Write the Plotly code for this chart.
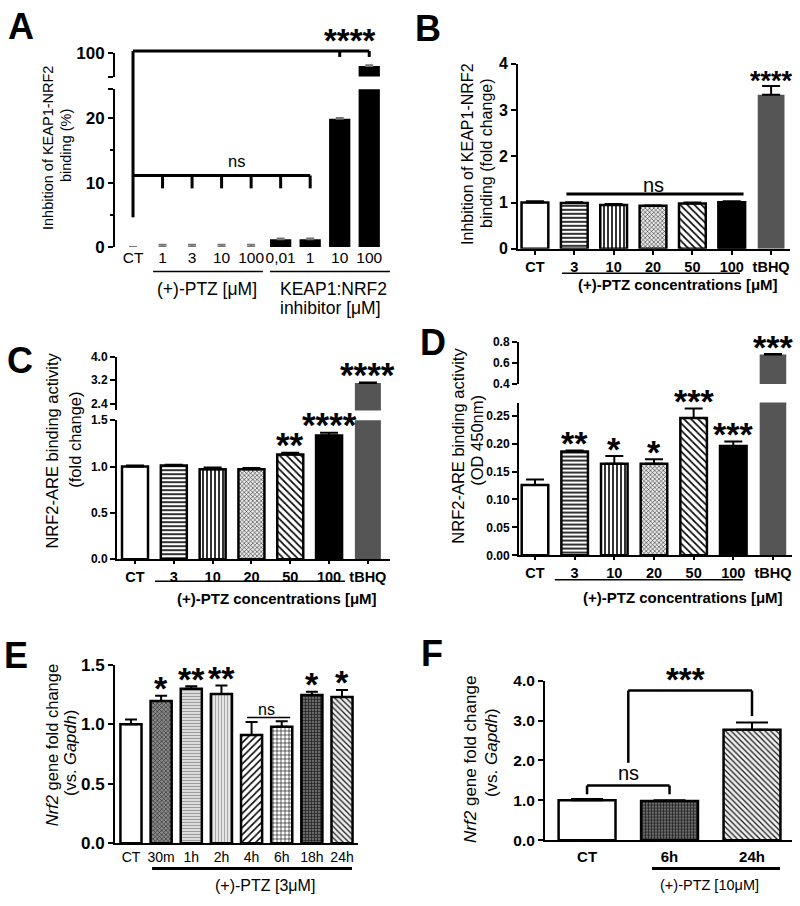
import plotly.graph_objects as go

W, H = 800, 906
FONT = "Liberation Sans, Arial, Helvetica, sans-serif"

# ---------------- data ----------------
A_labels = ["CT", "1", "3", "10", "100", "0,01", "1", "10", "100"]
A_values = [0, 0, 0, 0, 0, 1.2, 1.2, 19.9, 89]
A_err = [0, 0.35, 0.35, 0.35, 0.35, 0.1, 0.1, 0.15, 0.6]

B_labels = ["CT", "3", "10", "20", "50", "100", "tBHQ"]
B_values = [1.0, 0.99, 0.95, 0.93, 0.98, 1.01, 3.33]
B_err = [0.03, 0.02, 0.02, 0.01, 0.02, 0.02, 0.19]
B_stars = ["", "", "", "", "", "", "****"]

C_labels = ["CT", "3", "10", "20", "50", "100", "tBHQ"]
C_values = [1.0, 1.01, 0.97, 0.97, 1.13, 1.335, 3.1]
C_err = [0.01, 0.01, 0.02, 0.015, 0.02, 0.03, 0.02]
C_stars = ["", "", "", "", "**", "****", "****"]

D_labels = ["CT", "3", "10", "20", "50", "100", "tBHQ"]
D_values = [0.126, 0.186, 0.164, 0.164, 0.246, 0.196, 0.68]
D_err = [0.01, 0.002, 0.014, 0.008, 0.017, 0.008, 0.005]
D_stars = ["", "**", "*", "*", "***", "***", "***"]

E_labels = ["CT", "30m", "1h", "2h", "4h", "6h", "18h", "24h"]
E_values = [1.0, 1.196, 1.30, 1.256, 0.91, 0.98, 1.248, 1.23]
E_err = [0.04, 0.045, 0.02, 0.07, 0.11, 0.045, 0.027, 0.06]
E_stars = ["", "*", "**", "**", "", "", "*", "*"]

F_labels = ["CT", "6h", "24h"]
F_values = [1.0, 0.98, 2.77]
F_err = [0.03, 0.02, 0.18]

# ---------------- styles ----------------
def st(shape="", fg="black", bg="white", size=4, sol=0.4, lc="black", lw=2.5):
    return dict(shape=shape, fg=fg, bg=bg, size=size, sol=sol, lc=lc, lw=lw)

CONC_STYLES = [st(), st("-", size=4, sol=0.4), st("|", size=4, sol=0.4),
               st("x", fg="#111", bg="#e8e8e8", size=3, sol=0.3), st("\\", size=5, sol=0.33),
               st(bg="black"), st(bg="#555", lc="#555", lw=0)]
A_STYLES = [st(bg="black", lw=0) for _ in A_labels]
E_STYLES = [st(), st("x", fg="#222", bg="#8a8a8a", size=3, sol=0.35),
            st("-", fg="#9a9a9a", bg="#e4e4e4", size=3, sol=0.4),
            st("|", fg="#a8a8a8", bg="#ececec", size=3, sol=0.4),
            st("/", size=5, sol=0.3), st("+", size=4, sol=0.28),
            st("+", fg="#1a1a1a", bg="#6a6a6a", size=3, sol=0.4),
            st("\\", fg="#222", bg="#f0f0f0", size=4, sol=0.33)]
F_STYLES = [st(), st("+", fg="#1a1a1a", bg="#6a6a6a", size=3, sol=0.4),
            st("\\", fg="#222", bg="#f0f0f0", size=4, sol=0.33)]


class Panel:
    def __init__(self, xpx, xr, segs):
        self.xpx, self.xr, self.segs = xpx, xr, segs

    def X(self, i):
        a, b = self.xpx
        r0, r1 = self.xr
        return (a + (i - r0) / (r1 - r0) * (b - a)) / W

    def ypx(self, v, s=0):
        top, bot, (r0, r1) = self.segs[s]
        return bot - (v - r0) / (r1 - r0) * (bot - top)

    def Y(self, v, s=0, dpx=0.0):
        return 1 - (self.ypx(v, s) - dpx) / H


PA = Panel((115, 384), (-0.61, 8.5), [(82, 243, (0, 24.5)), (45, 69, (80, 100))])
PB = Panel((518, 790), (-0.43, 6.48), [(56, 245, (0, 4))])
PC = Panel((117, 390), (-0.464, 6.57), [(420, 562, (0, 1.5)), (355, 410, (2.17, 4.0))])
PD = Panel((519, 792), (-0.403, 6.48), [(402, 558, (0, 0.2737)), (340, 383, (0.4, 0.8))])
PE = Panel((115, 358), (-0.53, 7.53), [(670, 852, (0, 1.5))])
PF = Panel((545, 792), (-0.51, 2.485), [(686, 849, (0, 4.0))])

fig = go.Figure()
layout = {}
shapes = []
annots = []
count = [0]
STAR_K = 0.086  # offset of the asterisk glyph centre above its text box centre (em)


def font(size, bold=False, color="black"):
    return dict(family=FONT, size=size, color=color, weight="bold" if bold else "normal")


def axes(P, s, labels, xshow, xfont, xline, xticklen, xtickcolor, yvals, ytext, yfont,
         minor=None):
    count[0] += 1
    n = count[0]
    sfx = "" if n == 1 else str(n)
    top, bot, yr = P.segs[s]
    xa = dict(domain=[P.xpx[0] / W, P.xpx[1] / W], range=list(P.xr), anchor="y" + sfx,
              visible=xshow, showgrid=False, zeroline=False,
              tickvals=list(range(len(labels))), ticktext=labels, tickfont=xfont, tickangle=0,
              showline=xline, linecolor="black", linewidth=2,
              ticks="outside" if xticklen else "", ticklen=max(xticklen, 1), tickwidth=2,
              tickcolor=xtickcolor, fixedrange=True)
    ya = dict(domain=[1 - bot / H, 1 - top / H], range=list(yr), anchor="x" + sfx,
              showgrid=False, zeroline=False, showline=True, linecolor="black", linewidth=2,
              ticks="outside", ticklen=5, tickwidth=2, tickcolor="black",
              tickvals=yvals, ticktext=ytext, tickfont=yfont, fixedrange=True)
    if minor:
        ya["minor"] = minor
    layout["xaxis" + sfx] = xa
    layout["yaxis" + sfx] = ya
    return "x" + sfx, "y" + sfx


def bars(xa, ya, values, err, styles, width, cap, ecolor="black"):
    for i, (v, e, s) in enumerate(zip(values, err, styles)):
        marker = dict(color=s["bg"], line=dict(color=s["lc"], width=s["lw"]))
        if s["shape"]:
            marker["pattern"] = dict(shape=s["shape"], fgcolor=s["fg"], bgcolor=s["bg"],
                                     size=s["size"], solidity=s["sol"], fgopacity=1,
                                     fillmode="replace")
        fig.add_trace(go.Bar(
            x=[i], y=[v], xaxis=xa, yaxis=ya, width=width, marker=marker,
            error_y=dict(type="data", array=[e], arrayminus=[0], symmetric=False,
                         thickness=2, width=cap, color=ecolor),
            showlegend=False, hoverinfo="skip"))


def line(x0, y0, x1, y1, w=2.0, color="black"):
    shapes.append(dict(type="line", xref="paper", yref="paper", x0=x0, y0=y0, x1=x1, y1=y1,
                       line=dict(color=color, width=w)))


def text(x, y, t, size, bold=False, angle=0, xanchor="center", yanchor="middle"):
    annots.append(dict(xref="paper", yref="paper", x=x, y=y, text=t, showarrow=False,
                       xanchor=xanchor, yanchor=yanchor, textangle=angle, font=font(size, bold)))


def star_marks(P, values, err, marks, fs, above, seg_of=None):
    for i, (v, e, m) in enumerate(zip(values, err, marks)):
        if not m:
            continue
        s = seg_of(v) if seg_of else 0
        text(P.X(i), P.Y(v + e, s, dpx=above - STAR_K * fs), m, fs, bold=True)


PX = lambda x: x / W
PY = lambda y: 1 - y / H
CLEAR = "rgba(0,0,0,0)"

# ---------------- Panel A ----------------
xa, ya = axes(PA, 0, A_labels, True, font(15.5), False, 0, CLEAR, [0, 10, 20, 24.5],
              ["0", "10", "20", ""], font(17, True),
              minor=dict(tickvals=[5, 15], ticks="outside", ticklen=3, tickwidth=1.5,
                         tickcolor="black"))
bars(xa, ya, A_values, A_err, A_STYLES, 0.72, 4, ecolor="#777")
xa2, ya2 = axes(PA, 1, A_labels, False, font(15.5), False, 0, CLEAR, [80, 100], ["", "100"],
                font(17, True))
bars(xa2, ya2, A_values, A_err, A_STYLES, 0.72, 4, ecolor="#777")
yb = PA.Y(100, 1, dpx=2)
line(PA.X(0), yb, PA.X(8), yb, 3)
line(PA.X(0), yb, PA.X(0), PA.Y(4.6), 3)
for i in (7, 8):
    line(PA.X(i), yb, PA.X(i), PA.Y(100, 1, dpx=-4), 3)
text(PA.X(7.35), PA.Y(100, 1, dpx=2 + 14 - STAR_K * 33), "****", 33, bold=True)
yn = PA.Y(11.1)
line(PA.X(0), yn, PA.X(6), yn, 3)
for i in range(1, 7):
    line(PA.X(i), yn, PA.X(i), PA.Y(9.1), 3)
text(PA.X(3.5), PA.Y(11.1, dpx=14.5), "ns", 16.5)
line(PA.X(0.68), PA.Y(0, dpx=-25), PA.X(4.4), PA.Y(0, dpx=-25), 1.5)
line(PA.X(4.64), PA.Y(0, dpx=-25), PA.X(8.7), PA.Y(0, dpx=-25), 1.5)
text(PA.X(2.5), PA.Y(0, dpx=-43), "(+)-PTZ [μM]", 17.5)
text(PA.X(6.8), PA.Y(0, dpx=-43), "KEAP1:NRF2", 17.5)
text(PA.X(6.7), PA.Y(0, dpx=-62), "inhibitor [μM]", 17.5)
text(PX(48), PY(142), "Inhbition of KEAP1-NRF2", 14.5, angle=-90)
text(PX(66), PY(140), "binding (%)", 14.5, angle=-90)

# ---------------- Panel B ----------------
xb, yb_ = axes(PB, 0, B_labels, True, font(14.5, True), True, 4, "black", [0, 1, 2, 3, 4],
               ["0", "1", "2", "3", "4"], font(16, True))
bars(xb, yb_, B_values, B_err, CONC_STYLES, 0.68, 9)
star_marks(PB, B_values, B_err, B_stars, 27, 7)
line(PB.X(0.8), PB.Y(1.185), PB.X(5.3), PB.Y(1.185), 3)
text(PB.X(3), PB.Y(1.185, dpx=9), "ns", 20)
line(PB.X(0.69), PB.Y(0, dpx=-25), PB.X(5.21), PB.Y(0, dpx=-25), 1.5)
text(PB.X(3.64), PB.Y(0, dpx=-36), "(+)-PTZ concentrations [μM]", 15, bold=True)
text(PX(468), PY(148), "Inhbition of KEAP1-NRF2", 16, angle=-90)
text(PX(487), PY(148), "binding (fold change)", 16, angle=-90)

# ---------------- Panel C ----------------
xc, yc = axes(PC, 0, C_labels, True, font(14.5, True), True, 3, "black", [0, 0.5, 1.0, 1.5],
              ["0.0", "0.5", "1.0", "1.5"], font(12, True))
bars(xc, yc, C_values, C_err, CONC_STYLES, 0.67, 9)
xc2, yc2 = axes(PC, 1, C_labels, False, font(14.5, True), False, 0, CLEAR, [2.4, 3.2, 4.0],
                ["2.4", "3.2", "4.0"], font(12, True))
bars(xc2, yc2, C_values, C_err, CONC_STYLES, 0.67, 9)
star_marks(PC, C_values, C_err, C_stars, 35, 11.5, seg_of=lambda v: 1 if v > 1.5 else 0)
line(PC.X(0.515), PC.Y(0, dpx=-22.5), PC.X(5.41), PC.Y(0, dpx=-22.5), 1.5)
text(PC.X(3.66), PC.Y(0, dpx=-40), "(+)-PTZ concentrations [μM]", 15, bold=True)
text(PX(52), PY(451), "NRF2-ARE binding activity", 16.5, angle=-90)
text(PX(75), PY(440), "(fold change)", 16.5, angle=-90)

# ---------------- Panel D ----------------
xd, yd = axes(PD, 0, D_labels, True, font(14.5, True), True, 3, "black",
              [0, 0.05, 0.10, 0.15, 0.20, 0.25],
              ["0.00", "0.05", "0.10", "0.15", "0.20", "0.25"], font(12, True))
bars(xd, yd, D_values, D_err, CONC_STYLES, 0.67, 9)
xd2, yd2 = axes(PD, 1, D_labels, False, font(14.5, True), False, 0, CLEAR, [0.4, 0.6, 0.8],
                ["0.4", "0.6", "0.8"], font(12, True))
bars(xd2, yd2, D_values, D_err, CONC_STYLES, 0.67, 9)
star_marks(PD, D_values, D_err, D_stars, 34, 10.5, seg_of=lambda v: 1 if v > 0.3 else 0)
line(PD.X(0.5), PD.Y(0, dpx=-25), PD.X(5.24), PD.Y(0, dpx=-25), 1.5)
text(PD.X(3.73), PD.Y(0, dpx=-43), "(+)-PTZ concentrations [μM]", 15, bold=True)
text(PX(458), PY(446), "NRF2-ARE binding activity", 16.5, angle=-90)
text(PX(477), PY(440), "(OD 450nm)", 16.5, angle=-90)

# ---------------- Panel E ----------------
xe, ye = axes(PE, 0, E_labels, True, font(14), True, 0, CLEAR, [0, 0.5, 1.0, 1.5],
              ["0.0", "0.5", "1.0", "1.5"], font(17, True))
bars(xe, ye, E_values, E_err, E_STYLES, 0.7, 6)
star_marks(PE, E_values, E_err, E_stars, 34, 10.5)
line(PE.X(3.85), PE.Y(1.058), PE.X(5.28), PE.Y(1.058), 1.5)
text(PE.X(4.5), PE.Y(1.058, dpx=8), "ns", 16)
line(PE.X(0.70), PE.Y(0, dpx=-26), PE.X(7.33), PE.Y(0, dpx=-26), 3)
text(PE.X(4.45), PE.Y(0, dpx=-43), "(+)-PTZ [3μM]", 16)
text(PX(52), PY(752), "<i>Nrf2</i> gene fold change", 16.5, angle=-90)
text(PX(70), PY(760), "(vs. <i>Gapdh</i>)", 16.5, angle=-90)

# ---------------- Panel F ----------------
xf, yf = axes(PF, 0, F_labels, True, font(15, True), True, 2, CLEAR, [0, 1, 2, 3, 4],
              ["0.0", "1.0", "2.0", "3.0", "4.0"], font(15.5, True))
bars(xf, yf, F_values, F_err, F_STYLES, 0.69, 16)
line(PF.X(0), PF.Y(1.37), PF.X(1), PF.Y(1.37), 2.5)
for i in (0, 1):
    line(PF.X(i), PF.Y(1.37), PF.X(i), PF.Y(1.15), 2.5)
text(PF.X(0.5), PF.Y(1.37, dpx=13), "ns", 20)
line(PF.X(0.5), PF.Y(1.94), PF.X(0.5), PF.Y(3.75), 2.5)
line(PF.X(0.5), PF.Y(3.75), PF.X(2), PF.Y(3.75), 2.5)
line(PF.X(2), PF.Y(3.75), PF.X(2), PF.Y(3.11), 2.5)
text(PF.X(1.19), PF.Y(3.75, dpx=14 - STAR_K * 33), "***", 33, bold=True)
line(PF.X(0.787), PF.Y(0, dpx=-29), PF.X(2.34), PF.Y(0, dpx=-29), 3)
text(PF.X(1.49), PF.Y(0, dpx=-46), "(+)-PTZ [10μM]", 14.5)
text(PX(471), PY(767), "<i>Nrf2</i> gene fold change", 17, angle=-90)
text(PX(491), PY(760), "(vs. <i>Gapdh</i>)", 17, angle=-90)

# ---------------- panel letters ----------------
for letter, x, y in [("A", 21, 17.5), ("B", 428, 19.5), ("C", 20, 359),
                     ("D", 433, 341), ("E", 16, 660), ("F", 432, 658)]:
    text(PX(x), PY(y), letter, 36, bold=True)

fig.update_layout(width=W, height=H, margin=dict(l=0, r=0, t=0, b=0), barmode="overlay",
                  paper_bgcolor="white", plot_bgcolor="white", showlegend=False,
                  shapes=shapes, annotations=annots, font=dict(family=FONT, color="black"),
                  **layout)
fig.write_html("out.html", config={"displayModeBar": False},
               post_script="document.body.style.margin='0px';"
                           "document.body.style.overflow='hidden';")
